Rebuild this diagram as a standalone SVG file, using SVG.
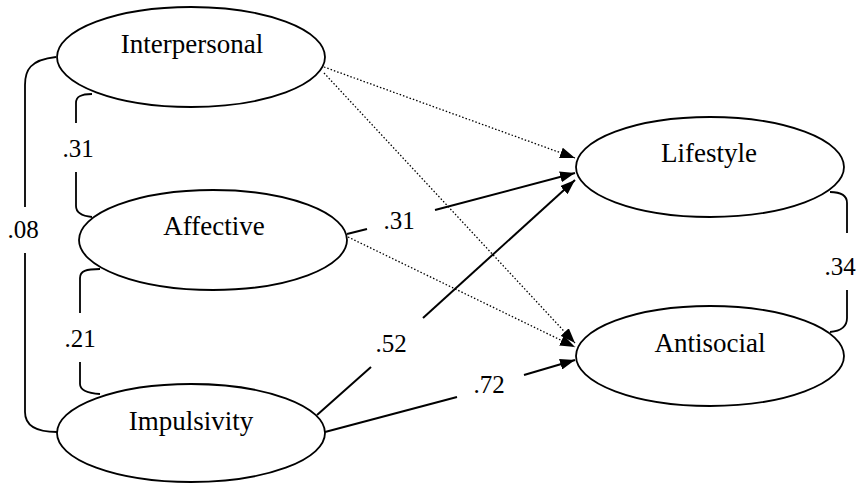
<svg xmlns="http://www.w3.org/2000/svg" width="857" height="483" viewBox="0 0 857 483">
<style>
.node ellipse{fill:#fff;stroke:#000;stroke-width:1.8}
.node text{font-size:27px}
.lbl{font-size:25px}
.solid{stroke:#000;stroke-width:2;fill:none}
.dot{stroke:#000;stroke-width:1.3;fill:none;stroke-dasharray:1.5 2}
.br{stroke:#000;stroke-width:1.8;fill:none}
</style>
<defs>
<marker id="ah" viewBox="0 0 15 11" refX="15" refY="5.5" markerWidth="15" markerHeight="11" markerUnits="userSpaceOnUse" orient="auto">
<path d="M0,0 L15,5.5 L0,11 Z" fill="#000"/>
</marker>
</defs>
<rect width="857" height="483" fill="#fff"/>
<g font-family="Liberation Serif, Times New Roman, serif" text-anchor="middle" fill="#000">
<g id="connectors">
<path class="br" d="M56,57 C30,60 25,70 25,85 L25,207"/>
<path class="br" d="M25,253 L25,412 C25,425 35,432 57,432"/>
<path class="br" d="M92,94 C80,94 76,97 76,103 L76,123"/>
<path class="br" d="M76,172 L76,206 C76,212 82,216 92,217"/>
<path class="br" d="M100,269 C86,269 80,271 80,278 L80,313"/>
<path class="br" d="M80,362 L80,384 C80,390 86,393 100,394"/>
<path class="br" d="M830,192 C842,192 847,196 847,203 L847,233"/>
<path class="br" d="M847,290 L847,318 C847,326 842,331 830,332"/>
<line class="dot" x1="324" y1="67" x2="575" y2="158" marker-end="url(#ah)"/>
<line class="dot" x1="324" y1="73" x2="575" y2="343" marker-end="url(#ah)"/>
<line class="dot" x1="348" y1="237" x2="575" y2="347" marker-end="url(#ah)"/>
<line class="solid" x1="347" y1="234" x2="367" y2="229"/>
<line class="solid" x1="435" y1="210" x2="575" y2="173" marker-end="url(#ah)"/>
<line class="solid" x1="317" y1="415" x2="371" y2="367"/>
<line class="solid" x1="423" y1="318" x2="575" y2="180" marker-end="url(#ah)"/>
<line class="solid" x1="325" y1="432" x2="457" y2="397"/>
<line class="solid" x1="524" y1="375" x2="575" y2="360" marker-end="url(#ah)"/>
<text class="lbl" x="23" y="238">.08</text>
<text class="lbl" x="78" y="157">.31</text>
<text class="lbl" x="80" y="347">.21</text>
<text class="lbl" x="840" y="275">.34</text>
<text class="lbl" x="399" y="229">.31</text>
<text class="lbl" x="391" y="352">.52</text>
<text class="lbl" x="489" y="393">.72</text>
</g>
<g id="interpersonal" class="node"><ellipse cx="191" cy="57" rx="134" ry="50"/><text x="192" y="53">Interpersonal</text></g>
<g id="affective" class="node"><ellipse cx="213" cy="240" rx="134" ry="50"/><text x="214" y="235">Affective</text></g>
<g id="impulsivity" class="node"><ellipse cx="191" cy="433" rx="134" ry="49"/><text x="191" y="430">Impulsivity</text></g>
<g id="lifestyle" class="node"><ellipse cx="710" cy="167" rx="134" ry="50"/><text x="709" y="162">Lifestyle</text></g>
<g id="antisocial" class="node"><ellipse cx="710" cy="356" rx="134" ry="50"/><text x="710" y="352">Antisocial</text></g>
</g>
</svg>
